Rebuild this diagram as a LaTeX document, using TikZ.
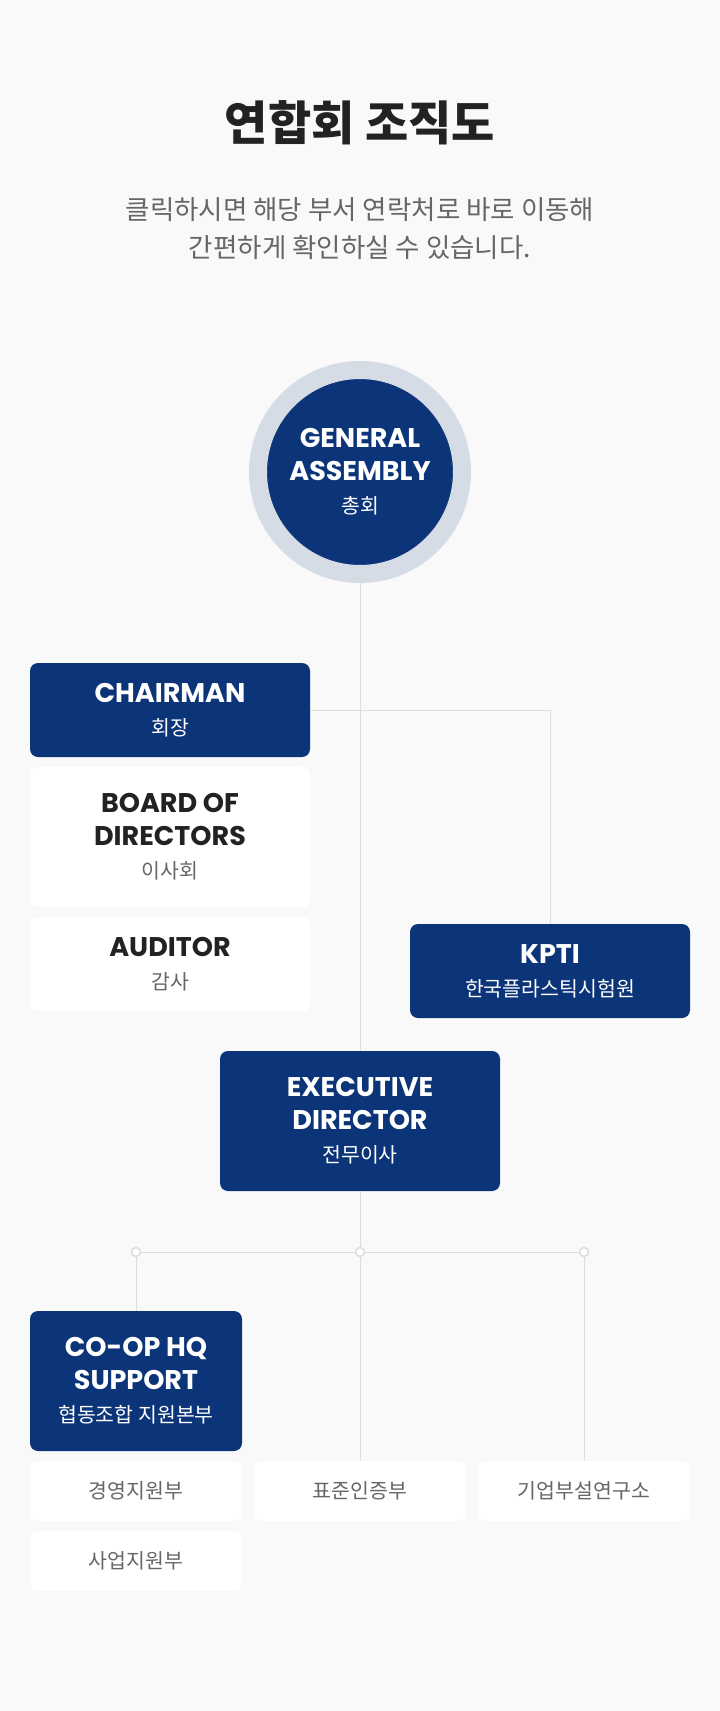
\documentclass[tikz,border=0pt]{standalone}
\usepackage{fontspec}
\setmainfont{Poppins}
\newfontfamily\kr{Noto Sans CJK KR}
\usepackage{tikz}

\definecolor{navy}{RGB}{12,53,121}
\definecolor{ringgray}{RGB}{214,220,230}
\definecolor{pagebg}{RGB}{249,249,249}
\definecolor{linegray}{RGB}{221,221,221}
\definecolor{darktext}{RGB}{34,34,34}
\definecolor{subgray}{RGB}{102,102,102}

\newcommand{\entxt}[1]{{\fontsize{27}{33}\selectfont\bfseries #1}}
\newcommand{\krtxt}[1]{{\kr\fontsize{20.5}{33}\selectfont #1}}

\begin{document}
\begin{tikzpicture}[x=1pt,y=-1pt,
    navybox/.style={rectangle,rounded corners=8pt,fill=navy,text=white,align=center,
      inner sep=0pt,font=\fontsize{27}{33}\selectfont},
    whitebox/.style={rectangle,rounded corners=8pt,fill=white,text=darktext,align=center,
      inner sep=0pt,font=\fontsize{27}{33}\selectfont},
    deptbox/.style={whitebox,minimum width=212pt,minimum height=60pt,text=subgray},
    link/.style={draw=linegray,line width=1pt},
    busdot/.style={circle,draw=linegray,line width=1.5pt,fill=white,minimum size=9pt,inner sep=0pt}]
    \fill[pagebg] (0,0) rectangle (720,1711);
    \useasboundingbox (0,0) rectangle (720,1711);

    % heading
    \node[text=darktext,font=\kr\bfseries\fontsize{47}{50}\selectfont] (title) at (360,123) {연합회 조직도};
    \node[text=subgray,align=center,font=\kr\fontsize{26.5}{38}\selectfont] (subtitle) at (360,229)
      {클릭하시면 해당 부서 연락처로 바로 이동해\\간편하게 확인하실 수 있습니다.};

    % boxes
    \node[circle,fill=navy,draw=ringgray,line width=18pt,minimum size=204pt,text=white,align=center,
      font=\fontsize{27}{33}\selectfont] (ga) at (360,472)
      {\entxt{GENERAL}\\\entxt{ASSEMBLY}\\\krtxt{총회}};
    \node[navybox,minimum width=280pt,minimum height=94pt] (chair) at (170,710)
      {\entxt{CHAIRMAN}\\\krtxt{회장}};
    \node[whitebox,minimum width=280pt,minimum height=140pt] (board) at (170,837)
      {\entxt{BOARD OF}\\\entxt{DIRECTORS}\\\krtxt{\color{subgray}이사회}};
    \node[whitebox,minimum width=280pt,minimum height=94pt] (auditor) at (170,964)
      {\entxt{AUDITOR}\\\krtxt{\color{subgray}감사}};
    \node[navybox,minimum width=280pt,minimum height=94pt] (kpti) at (550,971)
      {\entxt{KPTI}\\\krtxt{한국플라스틱시험원}};
    \node[navybox,minimum width=280pt,minimum height=140pt] (exec) at (360,1121)
      {\entxt{EXECUTIVE}\\\entxt{DIRECTOR}\\\krtxt{전무이사}};
    \node[navybox,minimum width=212pt,minimum height=140pt] (coop) at (136,1381)
      {\entxt{CO-OP HQ}\\\entxt{SUPPORT}\\\krtxt{협동조합 지원본부}};
    \node[deptbox] (mgmt) at (136,1491) {\krtxt{경영지원부}};
    \node[deptbox] (std) at (360,1491) {\krtxt{표준인증부}};
    \node[deptbox] (lab) at (584,1491) {\krtxt{기업부설연구소}};
    \node[deptbox] (biz) at (136,1561) {\krtxt{사업지원부}};

    % connectors
    \coordinate (busL) at (136,1252);
    \coordinate (busM) at (360,1252);
    \coordinate (busR) at (584,1252);
    \draw[link] (ga) -- (exec);
    \draw[link] (chair.east) -| (kpti.north);
    \draw[link] (exec) -- (std);
    \draw[link] (busL) -- (busR);
    \draw[link] (busL) -- (coop);
    \draw[link] (busR) -- (lab);
    \node[busdot] at (busL) {};
    \node[busdot] at (busM) {};
    \node[busdot] at (busR) {};
  \end{tikzpicture}
\end{document}
